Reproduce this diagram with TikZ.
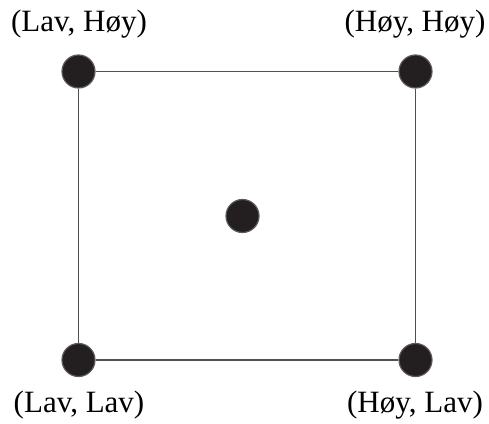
\documentclass[tikz,border=0pt]{standalone}
\usepackage{fontspec}
\setmainfont{Liberation Serif}
\begin{document}
\begin{tikzpicture}[x=1pt,y=1pt,
  dot/.style={circle,fill={rgb,255:red,35;green,31;blue,32},draw={rgb,255:red,90;green,90;blue,90},line width=1.2pt,minimum size=33pt,inner sep=0pt},
  edge/.style={draw={rgb,255:red,80;green,80;blue,80},line width=1.8pt},
  lbl/.style={anchor=base,inner sep=0pt,font=\fontsize{31}{34}\selectfont}]
\useasboundingbox (0,0) rectangle (489,423);
\node[dot] (tl) at (78.5,351.5) {};
\node[dot] (tr) at (415.5,351.5) {};
\node[dot] (bl) at (78.5,63) {};
\node[dot] (br) at (415.5,63) {};
\node[dot] (c) at (242.5,207) {};
\draw[edge] (tl) -- (tr);
\draw[edge] (tr) -- (br);
\draw[edge] (br) -- (bl);
\draw[edge] (bl) -- (tl);
\node[lbl] (ltl) at (79,391) {(Lav, Høy)};
\node[lbl] (ltr) at (415,391) {(Høy, Høy)};
\node[lbl] (lbl) at (79,11) {(Lav, Lav)};
\node[lbl] (lbr) at (415,11) {(Høy, Lav)};
\end{tikzpicture}
\end{document}
